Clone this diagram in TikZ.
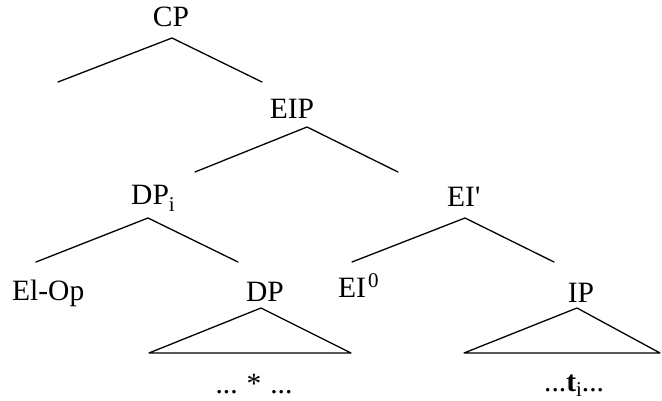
\documentclass[tikz,border=0pt]{standalone}
\usepackage{fontspec}
\setmainfont{Liberation Serif}
\newcommand{\mysub}[1]{\raisebox{-6pt}{\fontsize{21}{21}\selectfont #1}}
\newcommand{\mysup}[1]{\raisebox{10pt}{\fontsize{21}{21}\selectfont #1}}
\begin{document}
\begin{tikzpicture}[x=1pt,y=-1pt,
  lab/.style={inner sep=0pt,anchor=base,font=\fontsize{29.5}{32}\selectfont},
  branch/.style={line width=1.3pt,line cap=round,line join=round}]
\useasboundingbox (0,0) rectangle (662,401);
% labels
\node[lab] (cp) at (171,27) {CP};
\node[lab] (eip) at (292,119) {EIP};
\node[lab,anchor=base west] (dpi) at (131,205) {DP\mysub{i}};
\node[lab,anchor=base west] (eibar) at (447,207) {EI\textquotesingle};
\node[lab,anchor=base west] (elop) at (12,300) {El-Op};
\node[lab] (dp) at (265,301) {DP};
\node[lab,anchor=base west] (ei0) at (338,298) {EI\hspace{2pt}\mysup{0}};
\node[lab] (ip) at (581,302) {IP};
\node[lab] (dots1) at (254,393) {...\hspace{9pt}*\hspace{9pt}...};
\node[lab,anchor=base west] (dots2) at (544,391) {...\textbf{t}\raisebox{-5pt}{\fontsize{21}{21}\selectfont i}...};
% branch points
\coordinate (a1) at (172,38);  \coordinate (l1) at (58,82);   \coordinate (r1) at (262,82);
\coordinate (a2) at (307,127); \coordinate (l2) at (195,172); \coordinate (r2) at (398,172);
\coordinate (a3) at (148,218); \coordinate (l3) at (36,262);  \coordinate (r3) at (238,262);
\coordinate (a4) at (465,218); \coordinate (l4) at (352,262); \coordinate (r4) at (554,262);
\coordinate (a5) at (261,308); \coordinate (l5) at (149,353); \coordinate (r5) at (351,353);
\coordinate (a6) at (577,308); \coordinate (l6) at (464,353); \coordinate (r6) at (660,353);
\draw[branch] (l1) -- (a1) -- (r1);
\draw[branch] (l2) -- (a2) -- (r2);
\draw[branch] (l3) -- (a3) -- (r3);
\draw[branch] (l4) -- (a4) -- (r4);
\draw[branch] (a5) -- (l5) -- (r5) -- cycle;
\draw[branch] (a6) -- (l6) -- (r6) -- cycle;
\end{tikzpicture}
\end{document}
